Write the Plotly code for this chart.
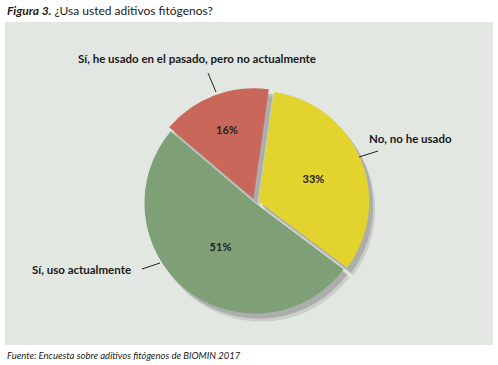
import plotly.graph_objects as go

W, H = 498, 365

# Data
labels = ["No, no he usado", "Sí, uso actualmente", "Sí, he usado en el pasado, pero no actualmente"]
values = [33, 51, 16]
colors = ["#e2d32f", "#7fa077", "#c9675a"]
pulls = [0.035, 0.0, 0.04]

title_bold = "Figura 3."
title_rest = " ¿Usa usted aditivos fitógenos?"
source_text = "Fuente: Encuesta sobre aditivos fitógenos de BIOMIN 2017"

def px(x):
    return x / W

def py(y):
    return 1 - y / H

# pie geometry (pixels)
cx, cy, half = 255, 203, 115

def dom(dx=0, dy=0):
    return dict(x=[px(cx - half + dx), px(cx + half + dx)],
                y=[py(cy + half + dy), py(cy - half + dy)])

fig = go.Figure()

# soft shadow layers
for (dx, dy, col) in [(6, 8, "rgba(150,152,148,0.3)"), (4, 5, "rgba(140,142,138,0.5)")]:
    fig.add_trace(go.Pie(
        labels=labels, values=values, sort=False, direction="clockwise", rotation=8,
        pull=pulls, marker=dict(colors=[col] * 3, line=dict(width=0)),
        textinfo="none", hoverinfo="skip", showlegend=False, domain=dom(dx, dy),
    ))

fig.add_trace(go.Pie(
    labels=labels, values=values, sort=False, direction="clockwise", rotation=8,
    pull=pulls, marker=dict(colors=colors, line=dict(width=0)),
    textinfo="percent", texttemplate="<b>%{percent:.0%}</b>",
    textposition="inside", insidetextorientation="horizontal",
    textfont=dict(family="Lato", size=11, color="#222222"),
    showlegend=False, domain=dom(),
))

shapes = [
    dict(type="rect", xref="paper", yref="paper", x0=px(5), x1=px(493), y0=py(345), y1=py(22),
         fillcolor="#e3e7e1", line=dict(width=0), layer="below"),
    dict(type="line", xref="paper", yref="paper", x0=px(208), y0=py(73), x1=px(216), y1=py(92),
         line=dict(color="#222222", width=1)),
    dict(type="line", xref="paper", yref="paper", x0=px(359), y0=py(157), x1=px(378), y1=py(151),
         line=dict(color="#222222", width=1)),
    dict(type="line", xref="paper", yref="paper", x0=px(142), y0=py(269), x1=px(160), y1=py(263),
         line=dict(color="#222222", width=1)),
]

lab_font = dict(family="Lato", size=11.5, color="#1a1a1a")
annotations = [
    dict(text="<b><i>" + title_bold + "</i></b>" + title_rest, x=px(5), y=py(11),
         xanchor="left", yanchor="middle", showarrow=False,
         font=dict(family="Lato", size=12, color="#1a1a1a")),
    dict(text="<i>" + source_text + "</i>", x=px(5), y=py(355),
         xanchor="left", yanchor="middle", showarrow=False,
         font=dict(family="Lato", size=9.5, color="#1a1a1a")),
    dict(text="<b>" + labels[2] + "</b>", x=px(197), y=py(58), xanchor="center", yanchor="middle",
         showarrow=False, font=lab_font),
    dict(text="<b>" + labels[0] + "</b>", x=px(367), y=py(138), xanchor="left", yanchor="middle",
         showarrow=False, font=lab_font),
    dict(text="<b>" + labels[1] + "</b>", x=px(133), y=py(269), xanchor="right", yanchor="middle",
         showarrow=False, font=lab_font),
]

fig.update_layout(
    width=W, height=H,
    margin=dict(l=0, r=0, t=0, b=0),
    paper_bgcolor="white", plot_bgcolor="white",
    shapes=shapes, annotations=annotations,
)

fig.write_html("out.html", config={"displayModeBar": False},
               post_script="document.body.style.margin='0';document.body.style.overflow='hidden';")
